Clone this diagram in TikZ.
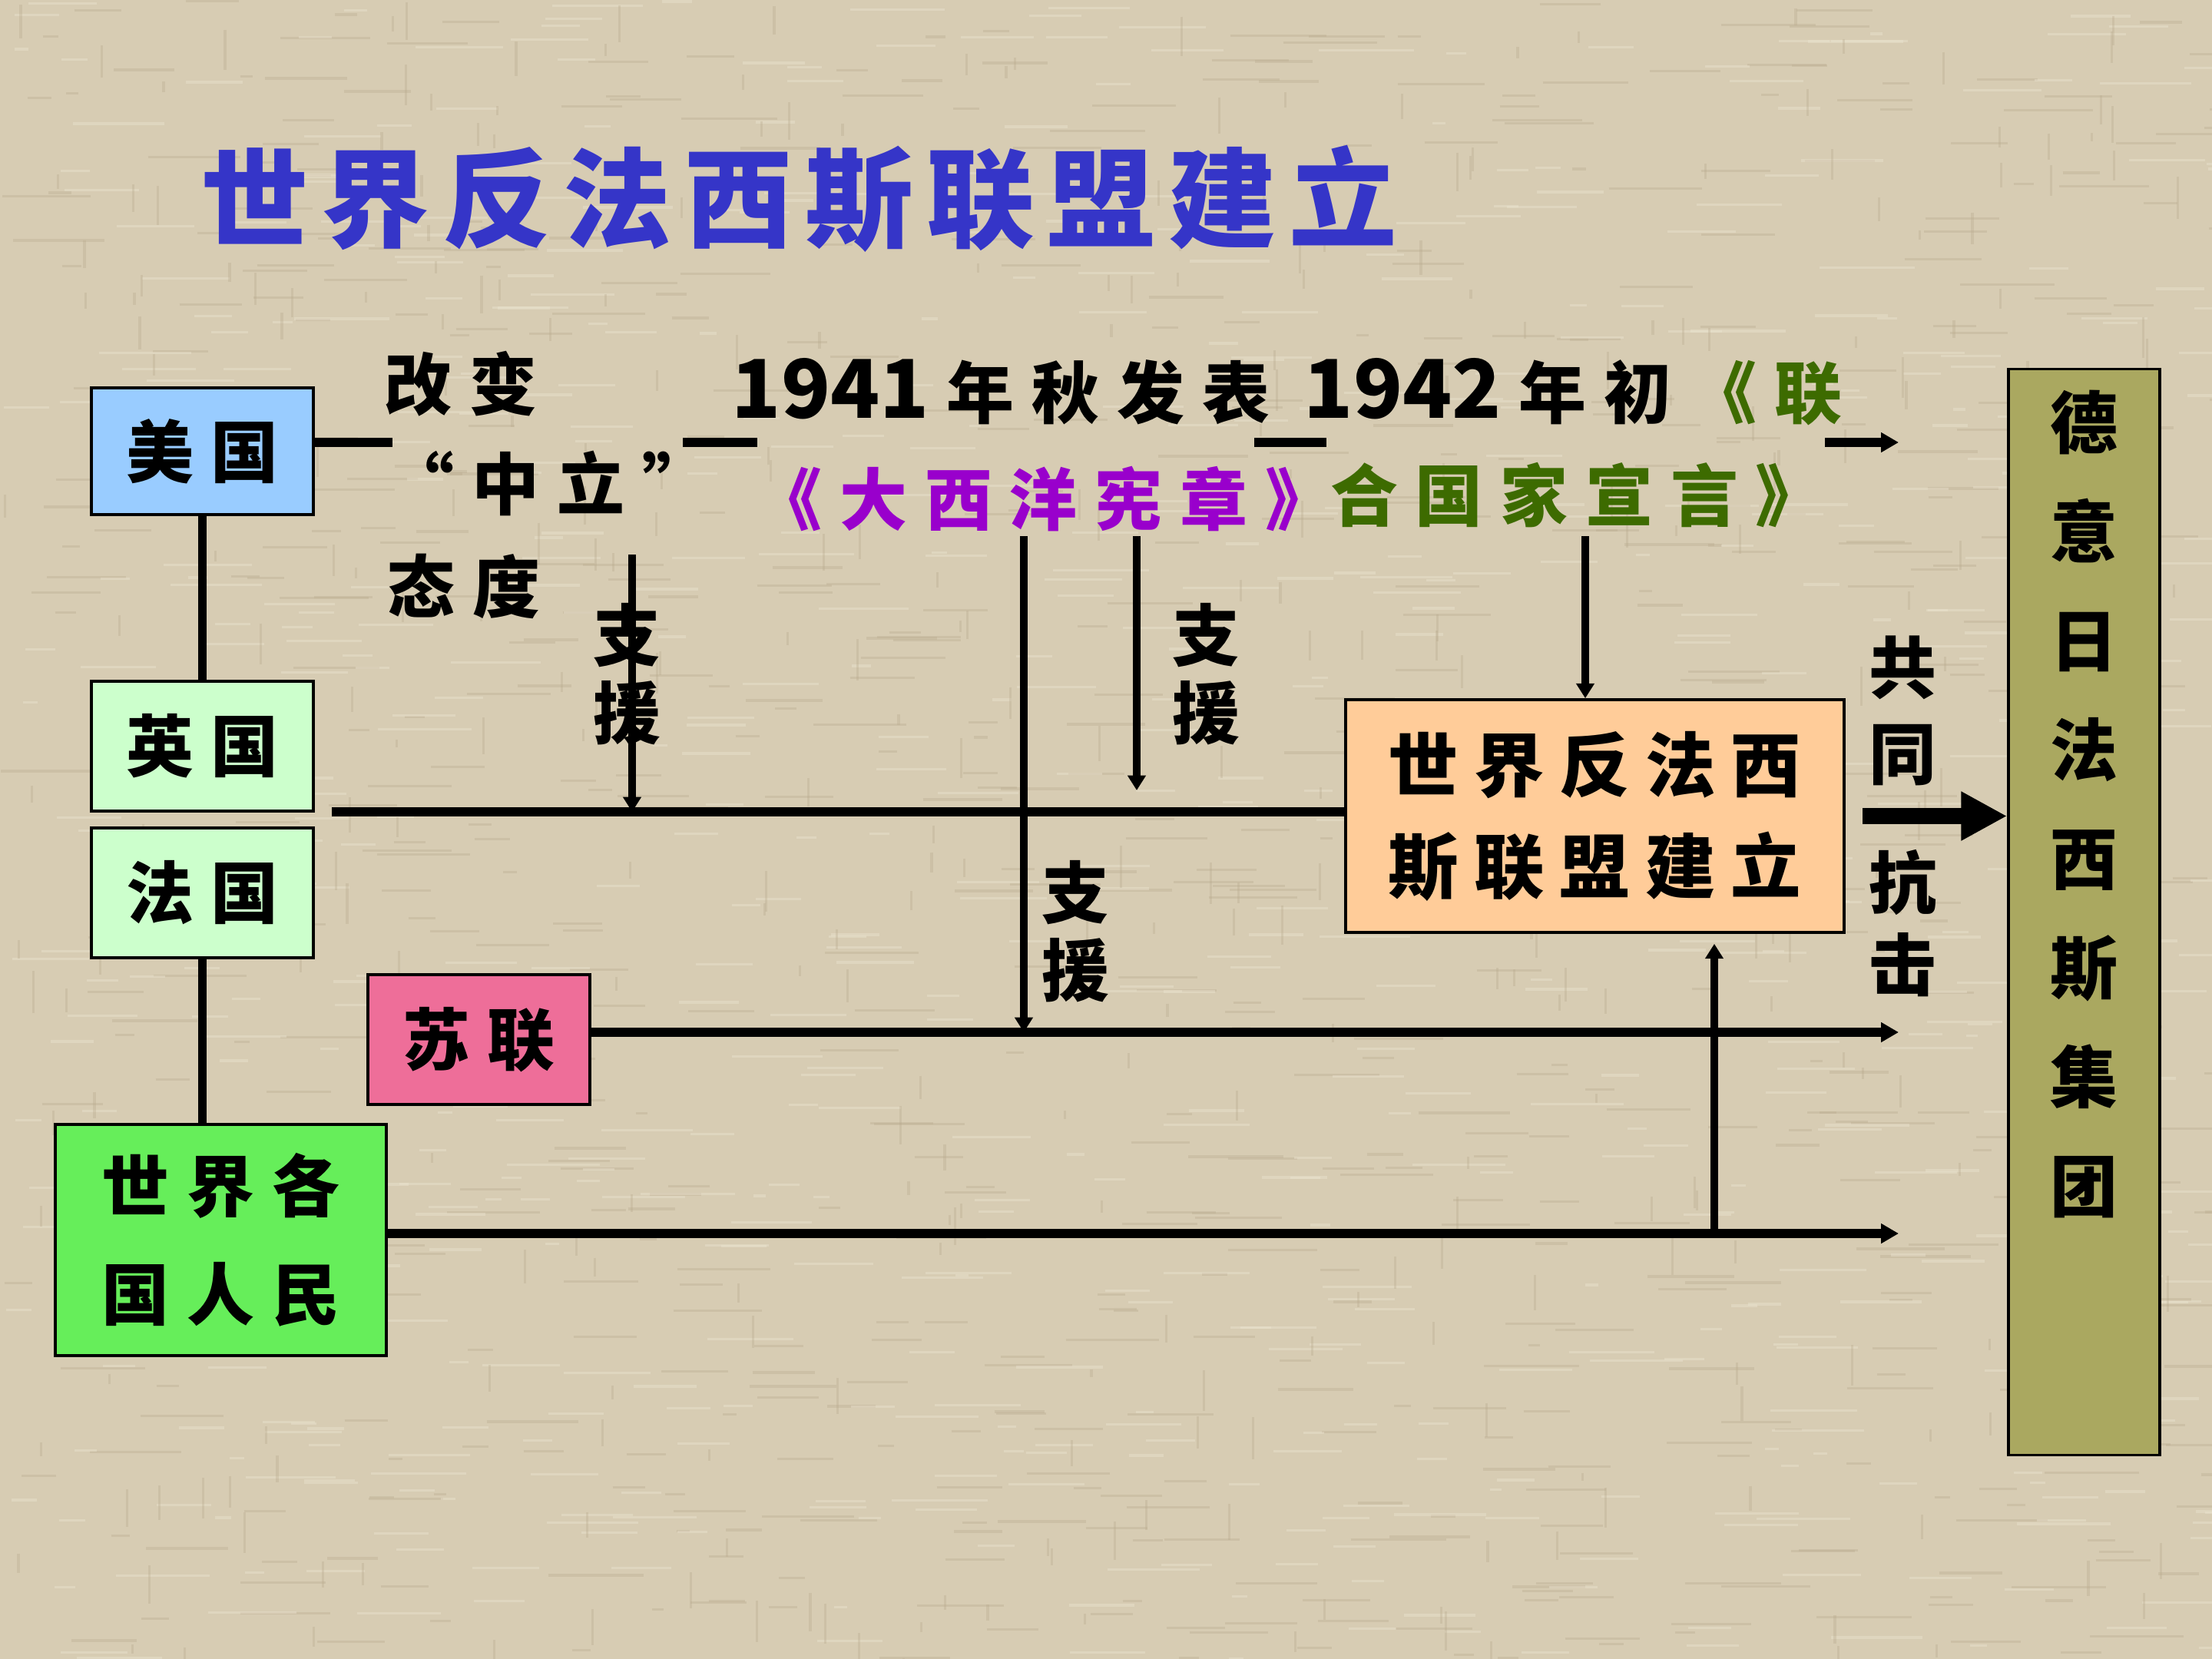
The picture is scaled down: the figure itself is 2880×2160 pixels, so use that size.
\documentclass[tikz,border=0pt]{standalone}
\usepackage{fontspec}
\setmainfont{Noto Sans CJK SC}
\usetikzlibrary{arrows.meta,calc}
\definecolor{bgc}{HTML}{D7CCB3}
\definecolor{texdark}{HTML}{B5A78A}
\definecolor{texlight}{HTML}{EDE5D2}
\definecolor{titleblue}{HTML}{3535C8}
\definecolor{usablue}{HTML}{99CCFF}
\definecolor{palegreen}{HTML}{CCFFCC}
\definecolor{supink}{HTML}{EE6E99}
\definecolor{peoplegreen}{HTML}{66EE5A}
\definecolor{alliorange}{HTML}{FFCC99}
\definecolor{axisolive}{HTML}{AAA860}
\definecolor{charterpurple}{HTML}{9900CC}
\definecolor{declgreen}{HTML}{3D6B00}

\def\lspg{0.26}
\def\lsp#1{\lspaux#1\relax}
\def\lspaux#1{#1\lspnext}
\def\lspnext#1{\ifx\relax#1\else\hspace{\lspg em}#1\expandafter\lspnext\fi}

\tikzset{
  cjk/.style={inner sep=0pt, font=\bfseries\fontsize{25}{30}\selectfont},
  cbox/.style={cjk, draw=black, line width=1pt, align=center},
  vtext/.style={cjk, align=center},
  link/.style={line width=3.4pt},
  harrow/.style={line width=3.4pt, -{Triangle[length=6.5pt,width=7pt]}},
  varrow/.style={line width=2.6pt, -{Triangle[length=5.5pt,width=6.5pt]}},
  bigarrow/.style={line width=5.7pt, -{Triangle[length=17pt,width=17pt]}},
  streakd/.style={texdark, line width=0.9pt, opacity=0.3},
  streakl/.style={texlight, line width=0.9pt, opacity=0.4},
}

\begin{document}
\begin{tikzpicture}[x=0.01cm,y=-0.01cm]
\fill[bgc] (0,0) rectangle (2880,2160);
\useasboundingbox (0,0) rectangle (2880,2160);

% canvas texture
\pgfmathsetseed{17}
\foreach \i in {1,...,700}{
  \pgfmathsetmacro\xx{rnd*2880}
  \pgfmathsetmacro\yy{rnd*2160}
  \pgfmathsetmacro\ll{15+rnd*110}
  \draw[streakd] (\xx,\yy) -- ++(\ll,0);
}
\foreach \i in {1,...,700}{
  \pgfmathsetmacro\xx{rnd*2880}
  \pgfmathsetmacro\yy{rnd*2160}
  \pgfmathsetmacro\ll{15+rnd*110}
  \draw[streakl] (\xx,\yy) -- ++(\ll,0);
}
\foreach \i in {1,...,400}{
  \pgfmathsetmacro\xx{rnd*2880}
  \pgfmathsetmacro\yy{rnd*2160}
  \pgfmathsetmacro\ll{10+rnd*45}
  \draw[streakd] (\xx,\yy) -- ++(0,\ll);
}

% title
\node[cjk, text=titleblue, font=\bfseries\fontsize{40}{48}\selectfont\def\lspg{0.12}] (title) at (1040.5,259) {\lsp{世界反法西斯联盟建立}};

% boxes
\node[cbox, fill=usablue, minimum width=2.89cm, minimum height=1.65cm] (usa) at (263.5,587.5) {\lsp{美国}};
\node[cbox, fill=palegreen, minimum width=2.89cm, minimum height=1.69cm] (uk) at (263.5,971.5) {\lsp{英国}};
\node[cbox, fill=palegreen, minimum width=2.89cm, minimum height=1.69cm] (fr) at (263.5,1162.5) {\lsp{法国}};
\node[cbox, fill=supink, minimum width=2.89cm, minimum height=1.69cm] (su) at (623.5,1353.5) {\lsp{苏联}};
\node[cbox, fill=peoplegreen, minimum width=4.31cm, minimum height=3.01cm, font=\bfseries\fontsize{25}{40}\selectfont] (people) at (287.5,1614.5) {\lsp{世界各}\\\lsp{国人民}};
\node[cbox, fill=alliorange, minimum width=6.49cm, minimum height=3.03cm, font=\bfseries\fontsize{26}{37.5}\selectfont\def\lspg{0.22}] (alliance) at (2076.5,1062.5) {\lsp{世界反法西}\\\lsp{斯联盟建立}};
\node[cbox, fill=axisolive, minimum width=1.97cm, minimum height=14.13cm] (axis) at (2713.5,1187.5) {};
\node[vtext, font=\bfseries\fontsize{25}{40.4}\selectfont] (axistext) at (2713,1047) {德\\意\\日\\法\\西\\斯\\集\\团};

% labels on the top line
\node[cjk] (change) at (600,500) {\lsp{改变}};
\node[cjk] (neutral) at (714,629) {\lsp{“中立”}};
\node[cjk] (attitude) at (604,763) {\lsp{态度}};
\node[cjk] (y1941) at (1303,510) {{\fontsize{30}{30}\selectfont 1941}\hspace{\lspg em}\lsp{年秋发表}};
\node[cjk, text=charterpurple] (charter) at (1359,650) {\lsp{《大西洋宪章》}};
\node[cjk] (y1942) at (2048,510) {{\fontsize{30}{30}\selectfont 1942}\hspace{\lspg em}\lsp{年初}\hspace{\lspg em}\textcolor{declgreen}{\lsp{《联}}};
\node[cjk, text=declgreen] (decl) at (2053,645) {\lsp{合国家宣言》}};

% vertical labels
\node[vtext, font=\bfseries\fontsize{25}{28.7}\selectfont] (aid1) at (816,878) {支\\援};
\node[vtext, font=\bfseries\fontsize{25}{28.7}\selectfont] (aid2) at (1570,878) {支\\援};
\node[vtext, font=\bfseries\fontsize{25}{28.7}\selectfont] (aid3) at (1400,1213) {支\\援};
\node[vtext, font=\bfseries\fontsize{25}{31.9}\selectfont] (jointly) at (2477,925) {共\\同};
\node[vtext, font=\bfseries\fontsize{25}{30.4}\selectfont] (resist) at (2477,1202) {抗\\击};

% coordinates
\coordinate (ty) at (0,576);
\coordinate (s1e) at (511,576);
\coordinate (s2a) at (889,576);
\coordinate (s2e) at (986,576);
\coordinate (s3a) at (1633,576);
\coordinate (s3e) at (1727,576);
\coordinate (s4a) at (2376,576);
\coordinate (s4e) at (2472,576);
\coordinate (ukline) at (432,1057);
\coordinate (suend) at (2472,1344);
\coordinate (pend) at (2472,1606);
\coordinate (v1a) at (823,722);
\coordinate (v2a) at (1333,698);
\coordinate (v3a) at (1480,698);
\coordinate (v3b) at (1480,1029);
\coordinate (v4a) at (2064,698);
\coordinate (v5a) at (2232,1606);

% connectors
\draw[link] (usa.south) -- (uk.north);
\draw[link] (fr.south) -- (fr.south |- people.north);
\draw[link] (usa.east |- ty) -- (s1e);
\draw[link] (s2a) -- (s2e);
\draw[link] (s3a) -- (s3e);
\draw[harrow] (s4a) -- (s4e);
\draw[link] (ukline) -- (alliance.west |- ukline);
\draw[harrow] (su.east |- suend) -- (suend);
\draw[harrow] (people.east |- pend) -- (pend);
\draw[varrow] (v1a) -- (v1a |- ukline);
\draw[varrow] (v2a) -- (v2a |- suend);
\draw[varrow] (v3a) -- (v3b);
\draw[varrow] (v4a) -- (v4a |- alliance.north);
\draw[varrow, shorten >=3.7pt] (v5a) -- (v5a |- alliance.south);
\draw[bigarrow] ($(alliance.east)+(22,0)$) -- (axis.west |- alliance.east);
\end{tikzpicture}
\end{document}
